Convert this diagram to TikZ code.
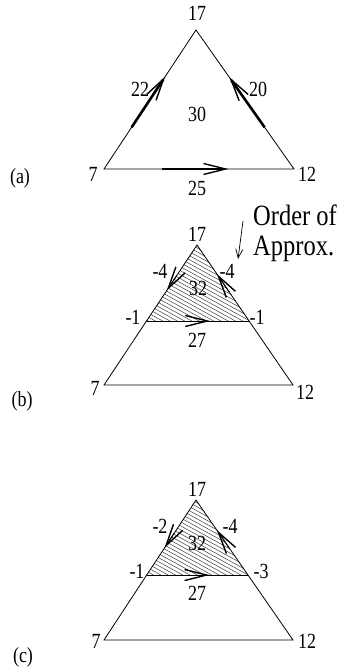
\documentclass[tikz,border=0pt]{standalone}
\usepackage{fontspec}
\setmainfont{Liberation Serif}
\usetikzlibrary{arrows.meta,calc}
\newcommand\stretchy[1]{\scalebox{1}[1.2]{#1}}
\tikzset{
  lbl/.style={inner sep=0pt, font=\fontsize{18}{20}\selectfont},
  biglbl/.style={inner sep=0pt, align=left, font=\fontsize{24.5}{29.5}\selectfont},
  edge/.style={line width=0.8pt},
  hd/.style={-{Straight Barb[length=22pt,width=11pt,line width=1.4pt]}},
  thickshaft/.style={line width=2.6pt, hd},
  headonly/.style={line width=0.9pt, hd},
  pointer/.style={line width=0.7pt, -{Straight Barb[length=9pt,width=7pt,line width=0.7pt]}},
  hatchline/.style={line width=0.5pt, black!75},
}
\begin{document}
\begin{tikzpicture}[x=1pt,y=-1pt]
\useasboundingbox (0,0) rectangle (339,669);

% ---------------- panel (a)
\coordinate (aT) at (196,30);
\coordinate (aL) at (104,169);
\coordinate (aR) at (294,169);
\draw[edge] (aT) -- (aL) -- (aR) -- cycle;
\draw[thickshaft] ($(aL)!0.3!(aT)$) -- ($(aL)!0.665!(aT)$);
\draw[thickshaft] ($(aR)!0.3!(aT)$) -- ($(aR)!0.66!(aT)$);
\draw[thickshaft] ($(aL)!0.305!(aR)$) -- ($(aL)!0.655!(aR)$);
\node[lbl] (a17) at (197,13) {\stretchy{17}};
\node[lbl] (a22) at (140,89) {\stretchy{22}};
\node[lbl] (a20) at (258,89) {\stretchy{20}};
\node[lbl] (a30) at (197,114) {\stretchy{30}};
\node[lbl] (a7) at (93,174) {\stretchy{7}};
\node[lbl] (a12) at (307,174) {\stretchy{12}};
\node[lbl] (a25) at (197,188) {\stretchy{25}};
\node[lbl] (alab) at (20,178) {\stretchy{(a)}};

% ---------------- panel (b)
\coordinate (bT) at (197,245);
\coordinate (bL) at (104,385);
\coordinate (bR) at (293,385);
\coordinate (bCL) at ($(bT)!0.543!(bL)$);
\coordinate (bCR) at ($(bT)!0.543!(bR)$);
\begin{scope}
  \clip (bT) -- (bCL) -- (bCR) -- cycle;
  \foreach \k in {0,...,42} {
    \draw[hatchline] (130,175+4*\k) -- ++(140,77);
  }
\end{scope}
\draw[edge] (bT) -- (bL) -- (bR) -- cycle;
\draw[edge] (bCL) -- (bCR);
\draw[headonly] ($(bT)!0.4!(bCL)$) -- ($(bT)!0.6!(bCL)$);
\draw[headonly] ($(bT)!0.62!(bCR)$) -- ($(bT)!0.38!(bCR)$);
\draw[headonly] ($(bCL)!0.4!(bCR)$) -- ($(bCL)!0.62!(bCR)$);
\node[lbl] (b17) at (197,234) {\stretchy{17}};
\node[lbl] (b4l) at (160,271) {\stretchy{-4}};
\node[lbl] (b4r) at (227,271) {\stretchy{-4}};
\node[lbl] (b32) at (198,288) {\stretchy{32}};
\node[lbl] (b1l) at (133,317) {\stretchy{-1}};
\node[lbl] (b1r) at (257,317) {\stretchy{-1}};
\node[lbl] (b27) at (197,340) {\stretchy{27}};
\node[lbl] (b7) at (95,388) {\stretchy{7}};
\node[lbl] (b12) at (305,392) {\stretchy{12}};
\node[lbl] (blab) at (22,401) {\stretchy{(b)}};
\node[biglbl, anchor=north west] (ord) at (253,205) {\stretchy{Order of}\\\stretchy{Approx.}};
\coordinate (ordS) at (243,221);
\coordinate (ordE) at (238,259);
\draw[pointer] (ordS) -- (ordE);

% ---------------- panel (c)
\coordinate (cT) at (196,500);
\coordinate (cL) at (104,640);
\coordinate (cR) at (293,640);
\coordinate (cCL) at ($(cT)!0.536!(cL)$);
\coordinate (cCR) at ($(cT)!0.536!(cR)$);
\begin{scope}
  \clip (cT) -- (cCL) -- (cCR) -- cycle;
  \foreach \k in {0,...,42} {
    \draw[hatchline] (130,430+4*\k) -- ++(140,77);
  }
\end{scope}
\draw[edge] (cT) -- (cL) -- (cR) -- cycle;
\draw[edge] (cCL) -- (cCR);
\draw[headonly] ($(cT)!0.44!(cCL)$) -- ($(cT)!0.64!(cCL)$);
\draw[headonly] ($(cT)!0.64!(cCR)$) -- ($(cT)!0.4!(cCR)$);
\draw[headonly] ($(cCL)!0.4!(cCR)$) -- ($(cCL)!0.62!(cCR)$);
\node[lbl] (c17) at (197,489) {\stretchy{17}};
\node[lbl] (c2) at (160,526) {\stretchy{-2}};
\node[lbl] (c4) at (230,526) {\stretchy{-4}};
\node[lbl] (c32) at (197,543) {\stretchy{32}};
\node[lbl] (c1) at (137,571) {\stretchy{-1}};
\node[lbl] (c3) at (261,571) {\stretchy{-3}};
\node[lbl] (c27) at (197,593) {\stretchy{27}};
\node[lbl] (c7) at (96,641) {\stretchy{7}};
\node[lbl] (c12) at (307,641) {\stretchy{12}};
\node[lbl] (clab) at (23,657) {\stretchy{(c)}};
\end{tikzpicture}
\end{document}
